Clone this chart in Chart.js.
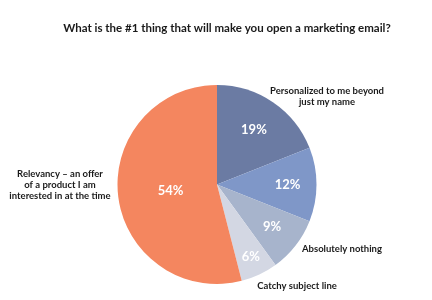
<!DOCTYPE html>
<html>
<head>
<meta charset="utf-8">
<script src="https://cdn.jsdelivr.net/npm/chart.js@4"></script>
<style>
  html, body { margin: 0; padding: 0; background: #fff; }
  #wrap { width: 432px; height: 300px; position: relative; }
</style>
</head>
<body>
<div id="wrap"><canvas id="chart"></canvas></div>
<script>
const TITLE = 'What is the #1 thing that will make you open a marketing email?';
const categories = [
    ['Personalized to me beyond', 'just my name'],
    [],
    ['Absolutely nothing'],
    ['Catchy subject line'],
    ['Relevancy \u2013 an offer', 'of a product I am', 'interested in at the time'],
];
const shares = [19, 12, 9, 6, 54];
const colors = ['#6b7ba3', '#7f97c8', '#a7b4cc', '#d3d7e3', '#f4865f'];

// where the white % text sits, as a fraction of the radius
const pctRadius = [0.66, 0.71, 0.70, 0.80, 0.47];
// outside label block centres, offset from the pie centre (px)
const labelOffsets = [[110, -88], null, [125, 64], [80, 101], [-157, 0]];

const FONT = 'Lato, "DejaVu Sans", sans-serif';

const labelPlugin = {
    id: 'sliceLabels',
    afterDatasetsDraw(chart) {
        const ctx = chart.ctx;
        const arcs = chart.getDatasetMeta(0).data;
        ctx.save();
        ctx.textAlign = 'center';
        ctx.textBaseline = 'middle';

        arcs.forEach((arc, i) => {
            const mid = (arc.startAngle + arc.endAngle) / 2;
            const r = arc.outerRadius * pctRadius[i];
            ctx.fillStyle = '#ffffff';
            ctx.font = 'bold 13px ' + FONT;
            ctx.fillText(shares[i] + '%', arc.x + Math.cos(mid) * r, arc.y + Math.sin(mid) * r);

            const off = labelOffsets[i];
            const lines = categories[i];
            if (!off || !lines.length) return;
            ctx.fillStyle = '#1a1a1a';
            ctx.font = 'bold 9.5px ' + FONT;
            const lh = 11;
            const top = arc.y + off[1] - (lines.length - 1) * lh / 2;
            lines.forEach((line, j) => {
                ctx.fillText(line, arc.x + off[0], top + j * lh);
            });
        });

        ctx.fillStyle = '#1a1a1a';
        ctx.font = 'bold 11.5px ' + FONT;
        ctx.fillText(TITLE, 227, 28);
        ctx.restore();
    },
};

new Chart(document.getElementById('chart'), {
    type: 'pie',
    data: {
        labels: categories.map((c) => c.join(' ')),
        datasets: [{
            data: shares,
            backgroundColor: colors,
            borderWidth: 0,
        }],
    },
    options: {
        responsive: true,
        maintainAspectRatio: false,
        animation: false,
        layout: { padding: { top: 85, bottom: 16, left: 2, right: 0 } },
        plugins: {
            legend: { display: false },
            tooltip: { enabled: false },
        },
    },
    plugins: [labelPlugin],
});
</script>
</body>
</html>
